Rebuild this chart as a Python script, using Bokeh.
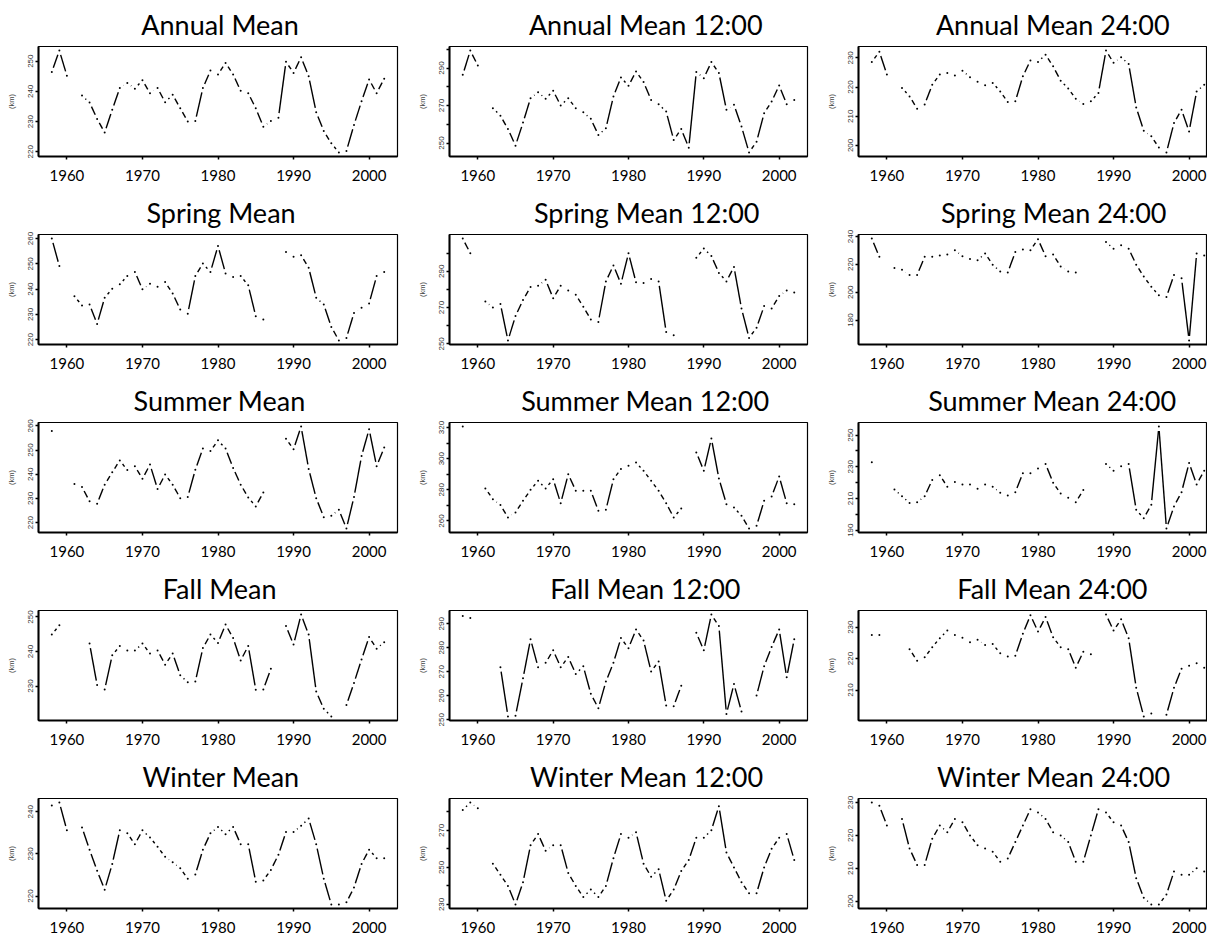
import math
from bokeh.plotting import figure
from bokeh.layouts import column, row
from bokeh.models import Range1d, FixedTicker
from bokeh.embed import file_html
from bokeh.resources import INLINE

NA = float("nan")
years = list(range(1958, 2003))
x_ticks = [1960, 1970, 1980, 1990, 2000]

annual_mean = [246.4, 253.5, 245.2, NA, 238.6, 236.3, 230.9, 226.4, 233.9, 241.1, 242.8, 240.9, 243.7, 239.4,
               241.1, 236.4, 238.9, 234.4, 230.0, 230.2, 241.1, 246.9, 245.6, 249.4,
               245.6, 240.2, 239.4, 234.4, 228.3, 230.2, 231.3, 249.8, 246.1, 251.3,
               245.0, 233.1, 226.9, 222.8, 219.8, 220.3, 228.9, 236.7, 243.9, 239.4, 244.2]
annual_12 = [286.4, 299.3, 291.3, NA, 268.6, 264.6, 257.5, 248.6, 260.9, 273.9, 277.1, 273.6, 277.9, 270.0,
             273.9, 268.6, 266.4, 262.9, 254.3, 257.9, 274.8, 285.0, 280.5, 288.2,
             282.5, 273.0, 270.7, 266.8, 251.6, 257.5, 247.5, 287.9, 284.6, 293.2,
             287.3, 267.7, 270.4, 258.8, 245.0, 250.7, 265.9, 272.1, 280.7, 270.7, 273.0]
annual_24 = [228.6, 232.1, 224.3, NA, 219.7, 216.8, 212.6, 214.0, 220.8, 224.3, 224.8, 224.0, 225.6, 223.4,
             221.8, 220.6, 221.4, 218.5, 214.9, 215.1, 223.7, 229.1, 228.6, 231.1,
             227.1, 222.2, 219.5, 216.0, 214.2, 215.1, 218.0, 232.5, 228.3, 230.2,
             227.9, 213.0, 205.0, 203.1, 199.3, 197.6, 207.7, 212.2, 204.8, 218.5, 220.8]

spring_mean = [260.0, 249.1, NA,
               237.2, 233.5, 233.9, 226.2, 236.6, 240.1, 241.9, 245.2, 246.8, 239.9, 242.1, 240.9, 242.8,
               238.3, 231.9, 230.3, 245.2, 250.1, 246.8, 257.1, 246.2, 244.8, 245.2, 241.5, 229.3, 228.0,
               NA, NA,
               254.7, 252.8, 253.4, 248.5, 236.6, 233.9, 225.0, 219.7, 220.7, 230.6, 232.6, 234.3, 245.2, 246.8]
spring_12 = [308.0, 299.9, NA,
             273.3, 270.1, 272.0, 251.9, 265.3, 274.2, 281.3, 282.0, 285.3, 275.1, 282.0, 279.4, 277.0,
             270.5, 263.4, 262.1, 284.4, 293.2, 283.1, 299.9, 283.9, 283.5, 285.7, 284.4, 256.5, 254.7,
             NA, NA,
             297.4, 302.5, 298.4, 289.1, 284.4, 292.4, 269.5, 253.3, 258.9, 270.8, 269.5, 276.4, 279.4, 278.3]
spring_24 = [238.5, 225.4, NA,
             217.3, 216.1, 212.4, 212.4, 225.4, 225.4, 226.3, 227.1, 230.2, 225.9, 223.9, 222.9, 227.8,
             219.8, 214.9, 214.1, 228.8, 230.7, 230.2, 238.0, 225.9, 227.1, 218.5, 214.9, 214.1,
             NA, NA, NA,
             236.1, 231.2, 233.7, 231.2, 219.8, 211.2, 203.9, 197.8, 196.6, 212.4, 210.0, 165.4, 227.8, 226.3]

summer_mean = [257.9, NA, NA,
               236.0, 234.7, 228.8, 227.8, 235.7, 240.8, 245.7, 241.7, 243.3, 238.1, 244.0, 233.9, 239.9,
               235.7, 230.1, 230.6, 241.9, 250.6, 249.6, 254.0, 250.6, 242.6, 235.7, 230.4, 226.7, 232.5,
               NA, NA,
               254.7, 250.3, 259.7, 242.2, 230.1, 222.2, 222.8, 225.3, 217.6, 230.6, 247.5, 258.6, 243.3, 251.0]
summer_12 = [320.6, NA, NA,
             280.9, 274.0, 270.2, 262.2, 265.5, 272.9, 280.0, 285.8, 280.9, 286.8, 271.4, 290.0, 279.4,
             279.4, 279.4, 266.5, 267.2, 286.8, 293.3, 295.4, 297.5, 292.2, 285.8, 279.4, 271.4, 262.2,
             268.0, NA,
             304.0, 292.2, 312.9, 287.3, 270.8, 268.7, 263.3, 255.2, 256.9, 272.9, 275.7, 288.6, 271.4, 270.8]
summer_24 = [232.9, NA, NA,
             215.7, 211.4, 207.1, 207.6, 211.4, 221.7, 224.7, 217.4, 220.4, 218.9, 218.9, 216.1, 218.9,
             217.4, 213.6, 211.9, 214.0, 226.0, 226.0, 229.0, 231.8, 220.0, 213.1, 210.4, 207.6, 215.3,
             NA, NA,
             231.8, 227.5, 230.3, 231.8, 202.9, 197.5, 206.1, 255.4, 191.1, 205.0, 214.0, 232.4, 218.9, 227.5]

fall_mean = [244.9, 247.6, NA, NA, NA,
             242.3, 230.3, 229.0, 238.9, 241.6, 240.3, 240.3, 242.3, 239.4, 240.3, 236.2, 239.4, 233.1,
             231.1, 231.3, 241.0, 244.9, 242.5, 247.8, 243.9, 237.4, 241.6, 228.9, 229.0, 235.0,
             NA,
             247.4, 242.0, 250.7, 244.9, 228.4, 223.4, 221.2,
             NA,
             224.5, 230.9, 237.7, 244.2, 240.8, 242.7]
fall_12 = [293.2, 292.4, NA, NA, NA,
           271.9, 251.4, 251.7, 267.3, 283.5, 271.9, 273.7, 278.9, 271.9, 276.1, 269.1, 272.3, 260.8,
           254.8, 265.9, 273.7, 284.0, 279.8, 287.6, 283.0, 270.1, 274.3, 255.9, 255.6, 264.2,
           NA,
           286.2, 278.9, 293.8, 289.0, 252.4, 264.9, 253.4,
           NA,
           260.1, 272.3, 280.3, 287.6, 267.7, 283.5]
fall_24 = [227.5, 227.5, NA, NA, NA,
           223.0, 219.3, 220.4, 223.6, 226.5, 228.9, 227.5, 226.6, 225.2, 226.0, 224.3, 224.6, 221.7,
           220.7, 220.9, 227.9, 233.8, 228.6, 233.2, 226.8, 223.6, 223.0, 217.1, 222.2, 221.4,
           NA,
           234.0, 228.9, 232.5, 226.5, 210.7, 201.6, 202.5,
           NA,
           202.1, 210.7, 216.8, 217.7, 218.5, 217.1]

winter_mean = [241.5, 242.2, 235.6, NA, 236.3, 231.0, 226.0, 221.5, 227.6, 235.6, 234.9, 232.3, 235.6, 233.9,
               231.7, 229.3, 228.0, 226.6, 224.1, 225.1, 231.0, 234.9, 236.4, 234.7,
               236.4, 232.3, 232.3, 223.4, 223.7, 226.2, 229.8, 235.2, 235.2, 236.7,
               238.4, 232.3, 224.1, 218.0, 218.0, 218.5, 222.0, 227.6, 231.0, 229.0, 229.0]
winter_12 = [281.0, 285.0, 282.0, NA, 252.0, 246.0, 240.0, 230.0, 242.0, 262.0, 268.0, 259.0, 262.0, 262.0,
             247.0, 240.0, 234.0, 238.0, 234.0, 240.0, 255.0, 268.0, 266.0, 269.0,
             252.0, 245.0, 249.0, 232.0, 238.0, 248.0, 254.0, 266.0, 266.0, 270.0,
             283.0, 258.0, 250.0, 242.0, 236.0, 236.0, 250.0, 260.0, 266.0, 268.0, 254.0]
winter_24 = [230.0, 229.0, 223.0, NA, 225.0, 216.0, 211.0, 211.0, 219.0, 223.0, 221.0, 225.0, 224.0, 220.0,
             217.0, 216.0, 215.0, 212.0, 213.0, 218.0, 223.0, 228.0, 227.0, 225.0,
             221.0, 220.0, 218.0, 212.0, 212.0, 220.0, 228.0, 227.0, 224.0, 223.0,
             218.0, 207.0, 201.0, 199.0, 199.0, 202.0, 209.0, 208.0, 208.0, 210.0, 209.0]

titles = [["Annual Mean", "Annual Mean 12:00", "Annual Mean 24:00"],
          ["Spring Mean", "Spring Mean 12:00", "Spring Mean 24:00"],
          ["Summer Mean", "Summer Mean 12:00", "Summer Mean 24:00"],
          ["Fall Mean", "Fall Mean 12:00", "Fall Mean 24:00"],
          ["Winter Mean", "Winter Mean 12:00", "Winter Mean 24:00"]]
series = [[annual_mean, annual_12, annual_24],
          [spring_mean, spring_12, spring_24],
          [summer_mean, summer_12, summer_24],
          [fall_mean, fall_12, fall_24],
          [winter_mean, winter_12, winter_24]]
# y ticks: (all tick positions, labelled positions)
y_ticks = [[([220, 230, 240, 250], [220, 230, 240, 250]),
            ([250, 260, 270, 280, 290, 300], [250, 270, 290]),
            ([200, 210, 220, 230], [200, 210, 220, 230])],
           [([220, 230, 240, 250, 260], [220, 230, 240, 250, 260]),
            ([250, 260, 270, 280, 290, 300], [250, 270, 290]),
            ([160, 180, 200, 220, 240], [160, 180, 200, 220, 240])],
           [([220, 230, 240, 250, 260], [220, 230, 240, 250, 260]),
            ([260, 270, 280, 290, 300, 310, 320], [260, 280, 300, 320]),
            ([190, 200, 210, 220, 230, 240, 250], [190, 210, 230, 250])],
           [([220, 230, 240, 250], [220, 230, 240, 250]),
            ([250, 260, 270, 280, 290], [250, 260, 270, 280, 290]),
            ([200, 210, 220, 230], [200, 210, 220, 230])],
           [([220, 230, 240], [220, 230, 240]),
            ([230, 240, 250, 260, 270, 280], [230, 250, 270]),
            ([200, 210, 220, 230], [200, 210, 220, 230])]]

# layout (pixels)
FIG_H, BORDER_TOP, BORDER_BOTTOM = 188, 46, 32
FRAME_H = FIG_H - BORDER_TOP - BORDER_BOTTOM
col_left = [38, 44, 48]
col_frame = [359, 358, 349]
col_right = [8, 3, 0]
title_center = [180, 194, 192]   # title centre, px from the frame's left edge
TITLE_PX = 27
X0, X1 = 1956.24, 2003.76
GAP = 4.5

# approximate Lato advance widths (em) used to centre the titles off-frame-centre
_W = {" ": 0.19, "A": 0.68, "F": 0.53, "M": 0.87, "S": 0.51, "W": 0.96, "a": 0.49, "e": 0.52,
      "g": 0.48, "i": 0.24, "l": 0.24, "m": 0.85, "n": 0.56, "p": 0.55, "r": 0.37, "t": 0.35,
      "u": 0.56, ":": 0.26}


def text_width(s, px):
    return sum(_W.get(ch, 0.58) for ch in s) * px


def gapped(xs, ys, sx, sy, gap):
    a, b, c, d = [], [], [], []
    for i in range(len(xs) - 1):
        y0, y1 = ys[i], ys[i + 1]
        if math.isnan(y0) or math.isnan(y1):
            continue
        dx, dy = xs[i + 1] - xs[i], y1 - y0
        L = math.hypot(dx * sx, dy * sy)
        if L <= 2 * gap:
            continue
        f = gap / L
        a.append(xs[i] + f * dx)
        b.append(y0 + f * dy)
        c.append(xs[i + 1] - f * dx)
        d.append(y1 - f * dy)
    return a, b, c, d


rows = []
for r in range(5):
    figs = []
    for c in range(3):
        ys = series[r][c]
        vals = [v for v in ys if not math.isnan(v)]
        lo, hi = min(vals), max(vals)
        pad = 0.04 * (hi - lo)
        y0, y1 = lo - pad, hi + pad
        fw = col_frame[c]
        x1 = X0 + fw * (X1 - X0) / col_frame[0] if c == 2 else X1
        p = figure(width=col_left[c] + fw + col_right[c], height=FIG_H,
                   x_range=Range1d(X0, x1), y_range=Range1d(y0, y1),
                   output_backend="svg", toolbar_location=None,
                   min_border_left=col_left[c], min_border_right=col_right[c],
                   min_border_top=BORDER_TOP, min_border_bottom=BORDER_BOTTOM)
        t = titles[r][c]
        p.title.text = t
        p.title.align = "left"
        p.title.offset = title_center[c] - text_width(t, TITLE_PX) / 2
        p.title.vertical_align = "top"
        p.title.text_font = "Lato"
        p.title.text_font_size = f"{TITLE_PX}px"
        p.title.text_font_style = "normal"
        p.title.text_color = "black"
        p.title.standoff = 8
        p.grid.visible = False
        p.outline_line_color = "black"
        p.outline_line_width = 1.2
        p.outline_line_alpha = 1.0
        p.background_fill_color = "white"
        p.border_fill_color = "white"

        xa = p.xaxis[0]
        xa.ticker = FixedTicker(ticks=x_ticks)
        xa.minor_tick_line_color = None
        xa.major_tick_in = 0
        xa.major_tick_out = 3
        xa.major_tick_line_width = 1.5
        xa.axis_line_width = 2
        xa.major_label_standoff = 10
        xa.major_label_text_font = "Lato"
        xa.major_label_text_font_size = "15px"
        xa.major_label_text_color = "black"

        ya = p.yaxis[0]
        ticks, labelled = y_ticks[r][c]
        ya.ticker = FixedTicker(ticks=ticks)
        ya.major_label_overrides = {t: "" for t in ticks if t not in labelled}
        ya.minor_tick_line_color = None
        ya.major_tick_in = 0
        ya.major_tick_out = 3
        ya.major_tick_line_width = 1.5
        ya.axis_line_width = 2
        ya.major_label_orientation = "vertical"
        ya.major_label_standoff = 2
        ya.major_label_text_font = "Liberation Sans"
        ya.major_label_text_font_size = "8px"
        ya.major_label_text_color = "#333333"
        ya.axis_label = "(km)"
        ya.axis_label_text_font = "Liberation Sans"
        ya.axis_label_text_font_size = "7.5px"
        ya.axis_label_text_font_style = "normal"
        ya.axis_label_text_color = "#444444"
        ya.axis_label_standoff = 10

        sx = fw / (x1 - X0)
        sy = FRAME_H / (y1 - y0)
        a, b, cc, d = gapped(years, ys, sx, sy, GAP)
        p.segment(a, b, cc, d, line_color="black", line_width=1.4)
        p.scatter(years, ys, size=2, color="black", line_width=0)
        figs.append(p)
    rows.append(row(*figs, spacing=0))

layout = column(*rows, spacing=0)
open("out.html", "w").write(file_html(layout, INLINE))
